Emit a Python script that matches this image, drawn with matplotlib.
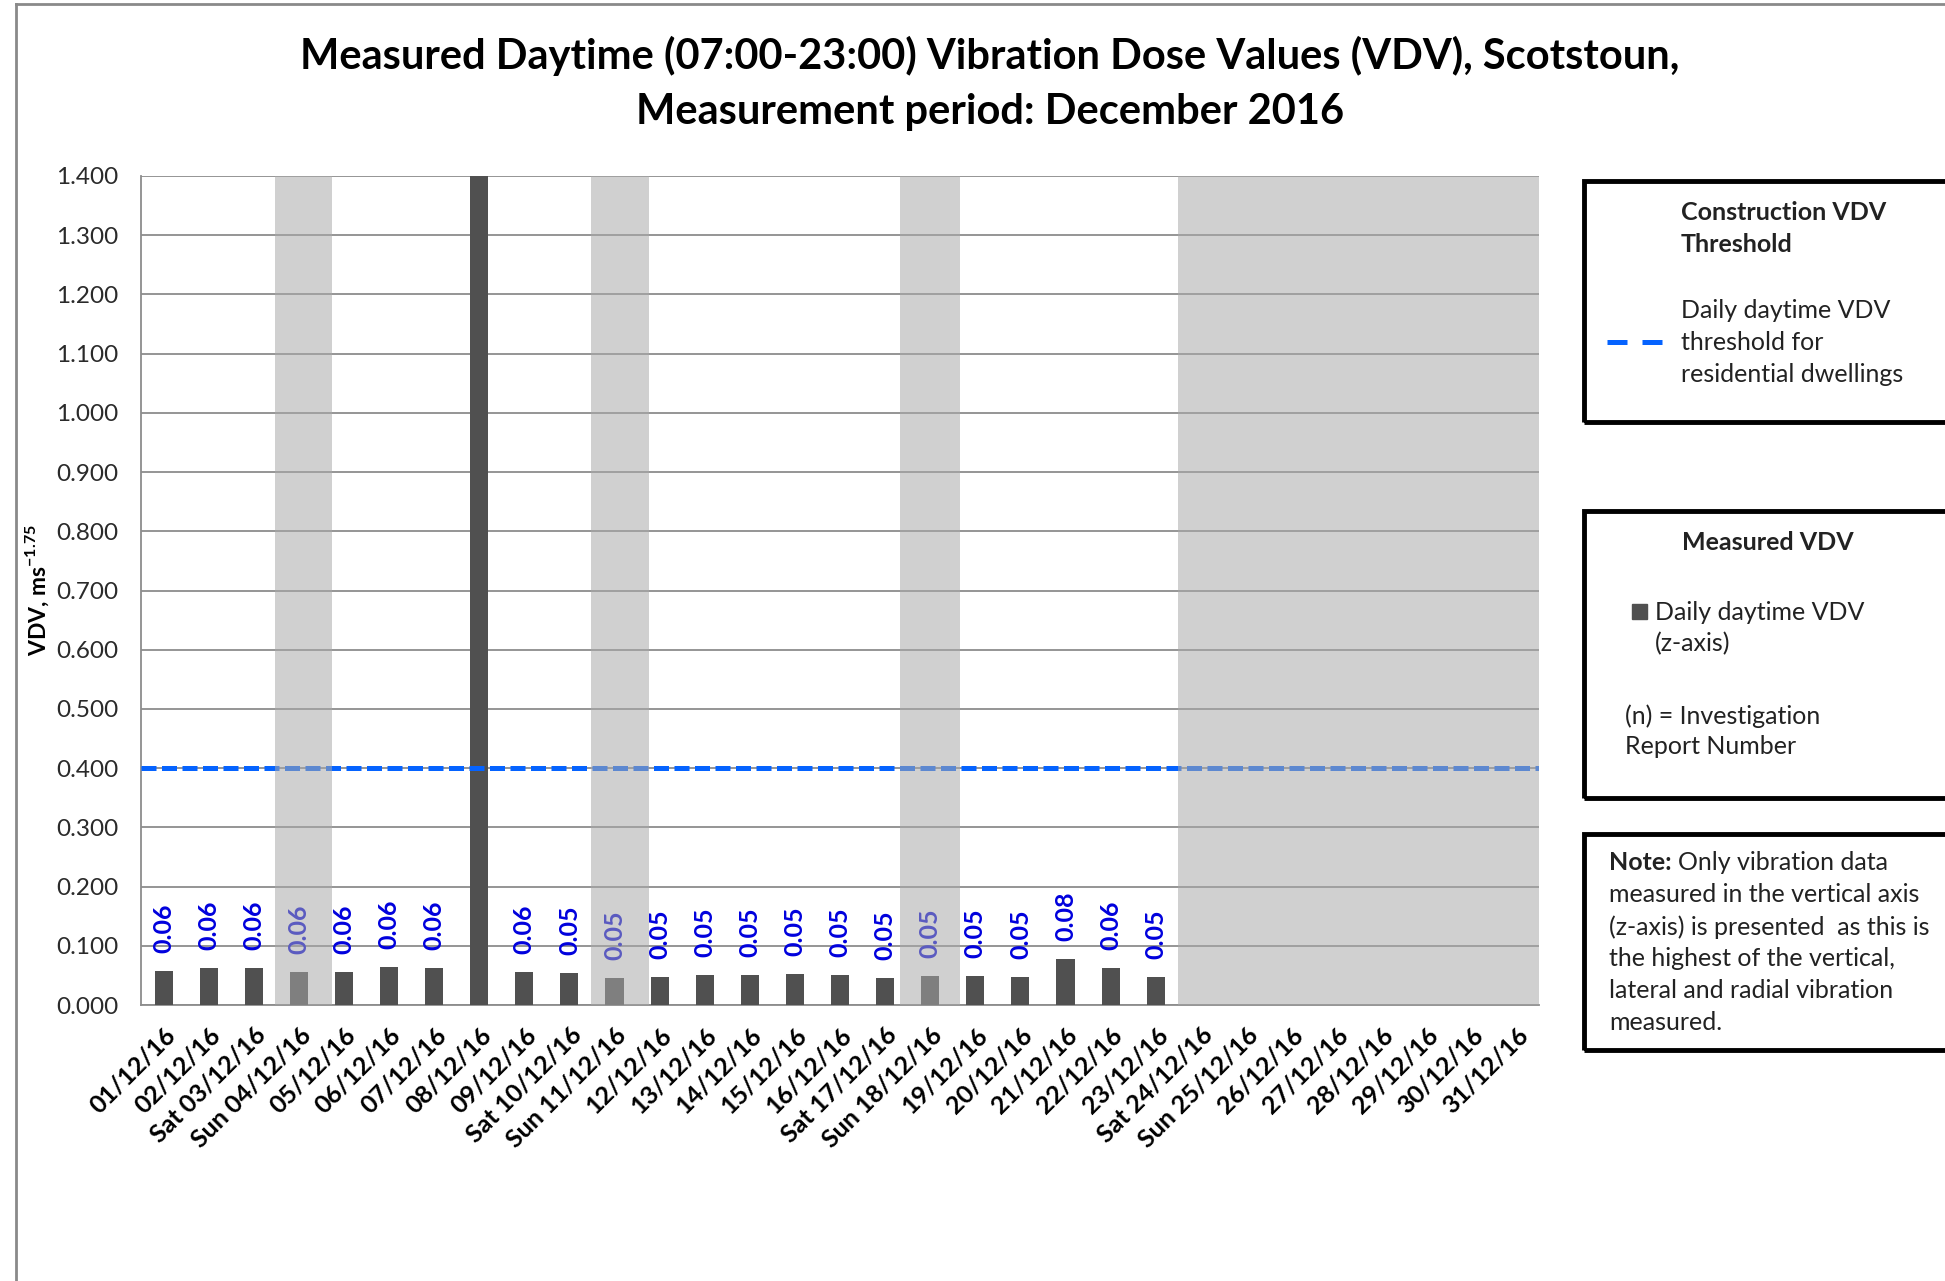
import numpy as np
import matplotlib
matplotlib.use("Agg")
import matplotlib.pyplot as plt
from matplotlib.patches import Rectangle
from matplotlib.lines import Line2D

plt.rcParams['font.family'] = ['Lato', 'DejaVu Sans']
plt.rcParams['mathtext.fontset'] = 'custom'
plt.rcParams['mathtext.rm'] = 'Lato'
plt.rcParams['mathtext.bf'] = 'Lato:bold'

W, H = 1945, 1281

days = ["01/12/16", "02/12/16", "Sat 03/12/16", "Sun 04/12/16", "05/12/16",
        "06/12/16", "07/12/16", "08/12/16", "09/12/16", "Sat 10/12/16",
        "Sun 11/12/16", "12/12/16", "13/12/16", "14/12/16", "15/12/16",
        "16/12/16", "Sat 17/12/16", "Sun 18/12/16", "19/12/16", "20/12/16",
        "21/12/16", "22/12/16", "23/12/16", "Sat 24/12/16", "Sun 25/12/16",
        "26/12/16", "27/12/16", "28/12/16", "29/12/16", "30/12/16", "31/12/16"]

# daily daytime VDV (z-axis), ms^-1.75 ; nan = no value shown
vdv = [0.057, 0.062, 0.062, 0.056, 0.056, 0.064, 0.062, np.nan, 0.056, 0.054,
       0.046, 0.047, 0.051, 0.051, 0.053, 0.051, 0.046, 0.049, 0.049, 0.047,
       0.077, 0.062, 0.047, np.nan, np.nan, np.nan, np.nan, np.nan, np.nan,
       np.nan, np.nan]

# bar goes past the top of the scale
off_scale_days = ["08/12/16"]

# weekend / no-monitoring shading (day, start offset, width in days)
shaded_days = ["Sun 04/12/16", "Sun 11/12/16", "Sun 18/12/16"]
shade_start = [-0.03, -0.02, -0.18]
shade_width = [1.26, 1.28, 1.34]
no_data_from = "Sat 24/12/16"

threshold = 0.40
y_max = 1.40
y_ticks = np.arange(0, 1.41, 0.1)

title_1 = "Measured Daytime (07:00-23:00) Vibration Dose Values (VDV), Scotstoun,"
title_2 = "Measurement period: December 2016"

bar_col = '#505050'
label_col = '#0000dd'
shade_col = '#a8a8a8'
grid_col = '#8c8c8c'
line_col = '#0563ff'
txt_col = '#222222'


def fx(x):
    return x / W


def fy(y):
    return 1 - y / H


fig = plt.figure(figsize=(W / 100, H / 100), dpi=100)
ax = fig.add_axes([fx(141), fy(1005), fx(1539) - fx(141), fy(176) - fy(1005)])

x = np.arange(len(days))
vals = np.array(vdv, dtype=float)

ax.bar(x, np.nan_to_num(vals), width=0.4, color=bar_col, zorder=3)
for d in off_scale_days:
    ax.bar(days.index(d), y_max, width=0.4, color=bar_col, zorder=3)

for xi, v in zip(x, vals):
    if np.isfinite(v):
        ax.annotate("{:.2f}".format(v), (xi, v), xytext=(0, 13),
                    textcoords='offset points', rotation=90, ha='center',
                    va='bottom', color=label_col, fontweight='bold',
                    fontsize=18, zorder=4)

ax.axhline(threshold, color=line_col, lw=3.6, dashes=(3, 1.1),
           dash_capstyle='butt', zorder=4)

for d, s0, w in zip(shaded_days, shade_start, shade_width):
    ax.bar(days.index(d) - 0.5 + s0, y_max, width=w, align='edge',
           color=shade_col, alpha=0.54, lw=0, zorder=5)
i0 = days.index(no_data_from)
ax.bar(i0 - 0.5, y_max, width=len(days) - i0, align='edge',
       color=shade_col, alpha=0.54, lw=0, zorder=5)

ax.set_xlim(-0.5, len(days) - 0.5)
ax.set_ylim(0, y_max)
ax.set_yticks(y_ticks)
ax.set_yticklabels(["{:.3f}".format(t) for t in y_ticks])
ax.set_xticks(x)
ax.set_xticklabels(days, rotation=45, ha='right', rotation_mode='anchor',
                   fontweight='bold', fontsize=18)
ax.tick_params(axis='y', length=0, pad=16, labelsize=17.5, labelcolor='#2a2a2a')
ax.tick_params(axis='x', length=0, pad=13)
ax.set_axisbelow(True)
ax.yaxis.grid(True, color=grid_col, lw=1.3)
for s in ['top', 'right']:
    ax.spines[s].set_visible(False)
for s in ['left', 'bottom']:
    ax.spines[s].set_color(grid_col)
    ax.spines[s].set_linewidth(1.3)

ax.set_ylabel(r"VDV, ms$^{\mathbf{-1.75}}$", fontweight='bold', fontsize=16.5,
              va='center')
ax.yaxis.set_label_coords(-0.0745, 0.5)

# titles
fig.text(fx(990), fy(56), title_1, ha='center', va='center',
         fontsize=30, fontweight='bold')
fig.text(fx(990), fy(112), title_2, ha='center', va='center',
         fontsize=30, fontweight='bold')

# outer chart frame
fig.add_artist(Line2D([fx(16), fx(16)], [0, fy(4)], transform=fig.transFigure,
                      color='#8a8a8a', lw=2))
fig.add_artist(Line2D([fx(16), 1], [fy(4), fy(4)], transform=fig.transFigure,
                      color='#8a8a8a', lw=2))

# side boxes
for top, bot in [(181, 422), (511, 798), (834, 1050)]:
    fig.add_artist(Rectangle((fx(1584), fy(bot)), fx(2100) - fx(1584),
                             fy(top) - fy(bot), fill=False, ec='black',
                             lw=3.5, transform=fig.transFigure, clip_on=False))

fs = 18
fig.text(fx(1681), fy(212), "Construction VDV", fontsize=fs, fontweight='bold',
         va='center', color=txt_col)
fig.text(fx(1681), fy(244), "Threshold", fontsize=fs, fontweight='bold',
         va='center', color=txt_col)
for yy, t in zip([310, 342, 375],
                 ["Daily daytime VDV", "threshold for", "residential dwellings"]):
    fig.text(fx(1681), fy(yy), t, fontsize=fs, va='center', color=txt_col)
fig.add_artist(Line2D([fx(1607), fx(1663)], [fy(342), fy(342)],
                      transform=fig.transFigure, color=line_col, lw=3.6,
                      dashes=(4, 3), dash_capstyle='butt'))

fig.text(fx(1768), fy(542), "Measured VDV", fontsize=fs, fontweight='bold',
         ha='center', va='center', color=txt_col)
fig.add_artist(Rectangle((fx(1632), fy(619)), fx(1647) - fx(1632),
                         fy(604) - fy(619), color=bar_col,
                         transform=fig.transFigure))
fig.text(fx(1655), fy(612), "Daily daytime VDV", fontsize=fs, va='center',
         color=txt_col)
fig.text(fx(1655), fy(644), "(z-axis)", fontsize=fs, va='center', color=txt_col)
fig.text(fx(1625), fy(716), "(n) = Investigation", fontsize=fs, va='center',
         color=txt_col)
fig.text(fx(1625), fy(747), "Report Number", fontsize=fs, va='center',
         color=txt_col)

note_lines = ["Only vibration data", "measured in the vertical axis",
              "(z-axis) is presented  as this is", "the highest of the vertical,",
              "lateral and radial vibration", "measured."]
note_y = [862, 895, 927, 959, 991, 1023]
renderer = fig.canvas.get_renderer()
note_head = fig.text(fx(1609), fy(note_y[0]), "Note:", fontsize=fs,
                     fontweight='bold', va='center', color=txt_col)
head_w = note_head.get_window_extent(renderer).width
for i, (yy, t) in enumerate(zip(note_y, note_lines)):
    x0 = 1609 + head_w + 6 if i == 0 else 1609
    fig.text(fx(x0), fy(yy), t, fontsize=fs, va='center', color=txt_col)

fig.savefig("out.png", dpi=100)
